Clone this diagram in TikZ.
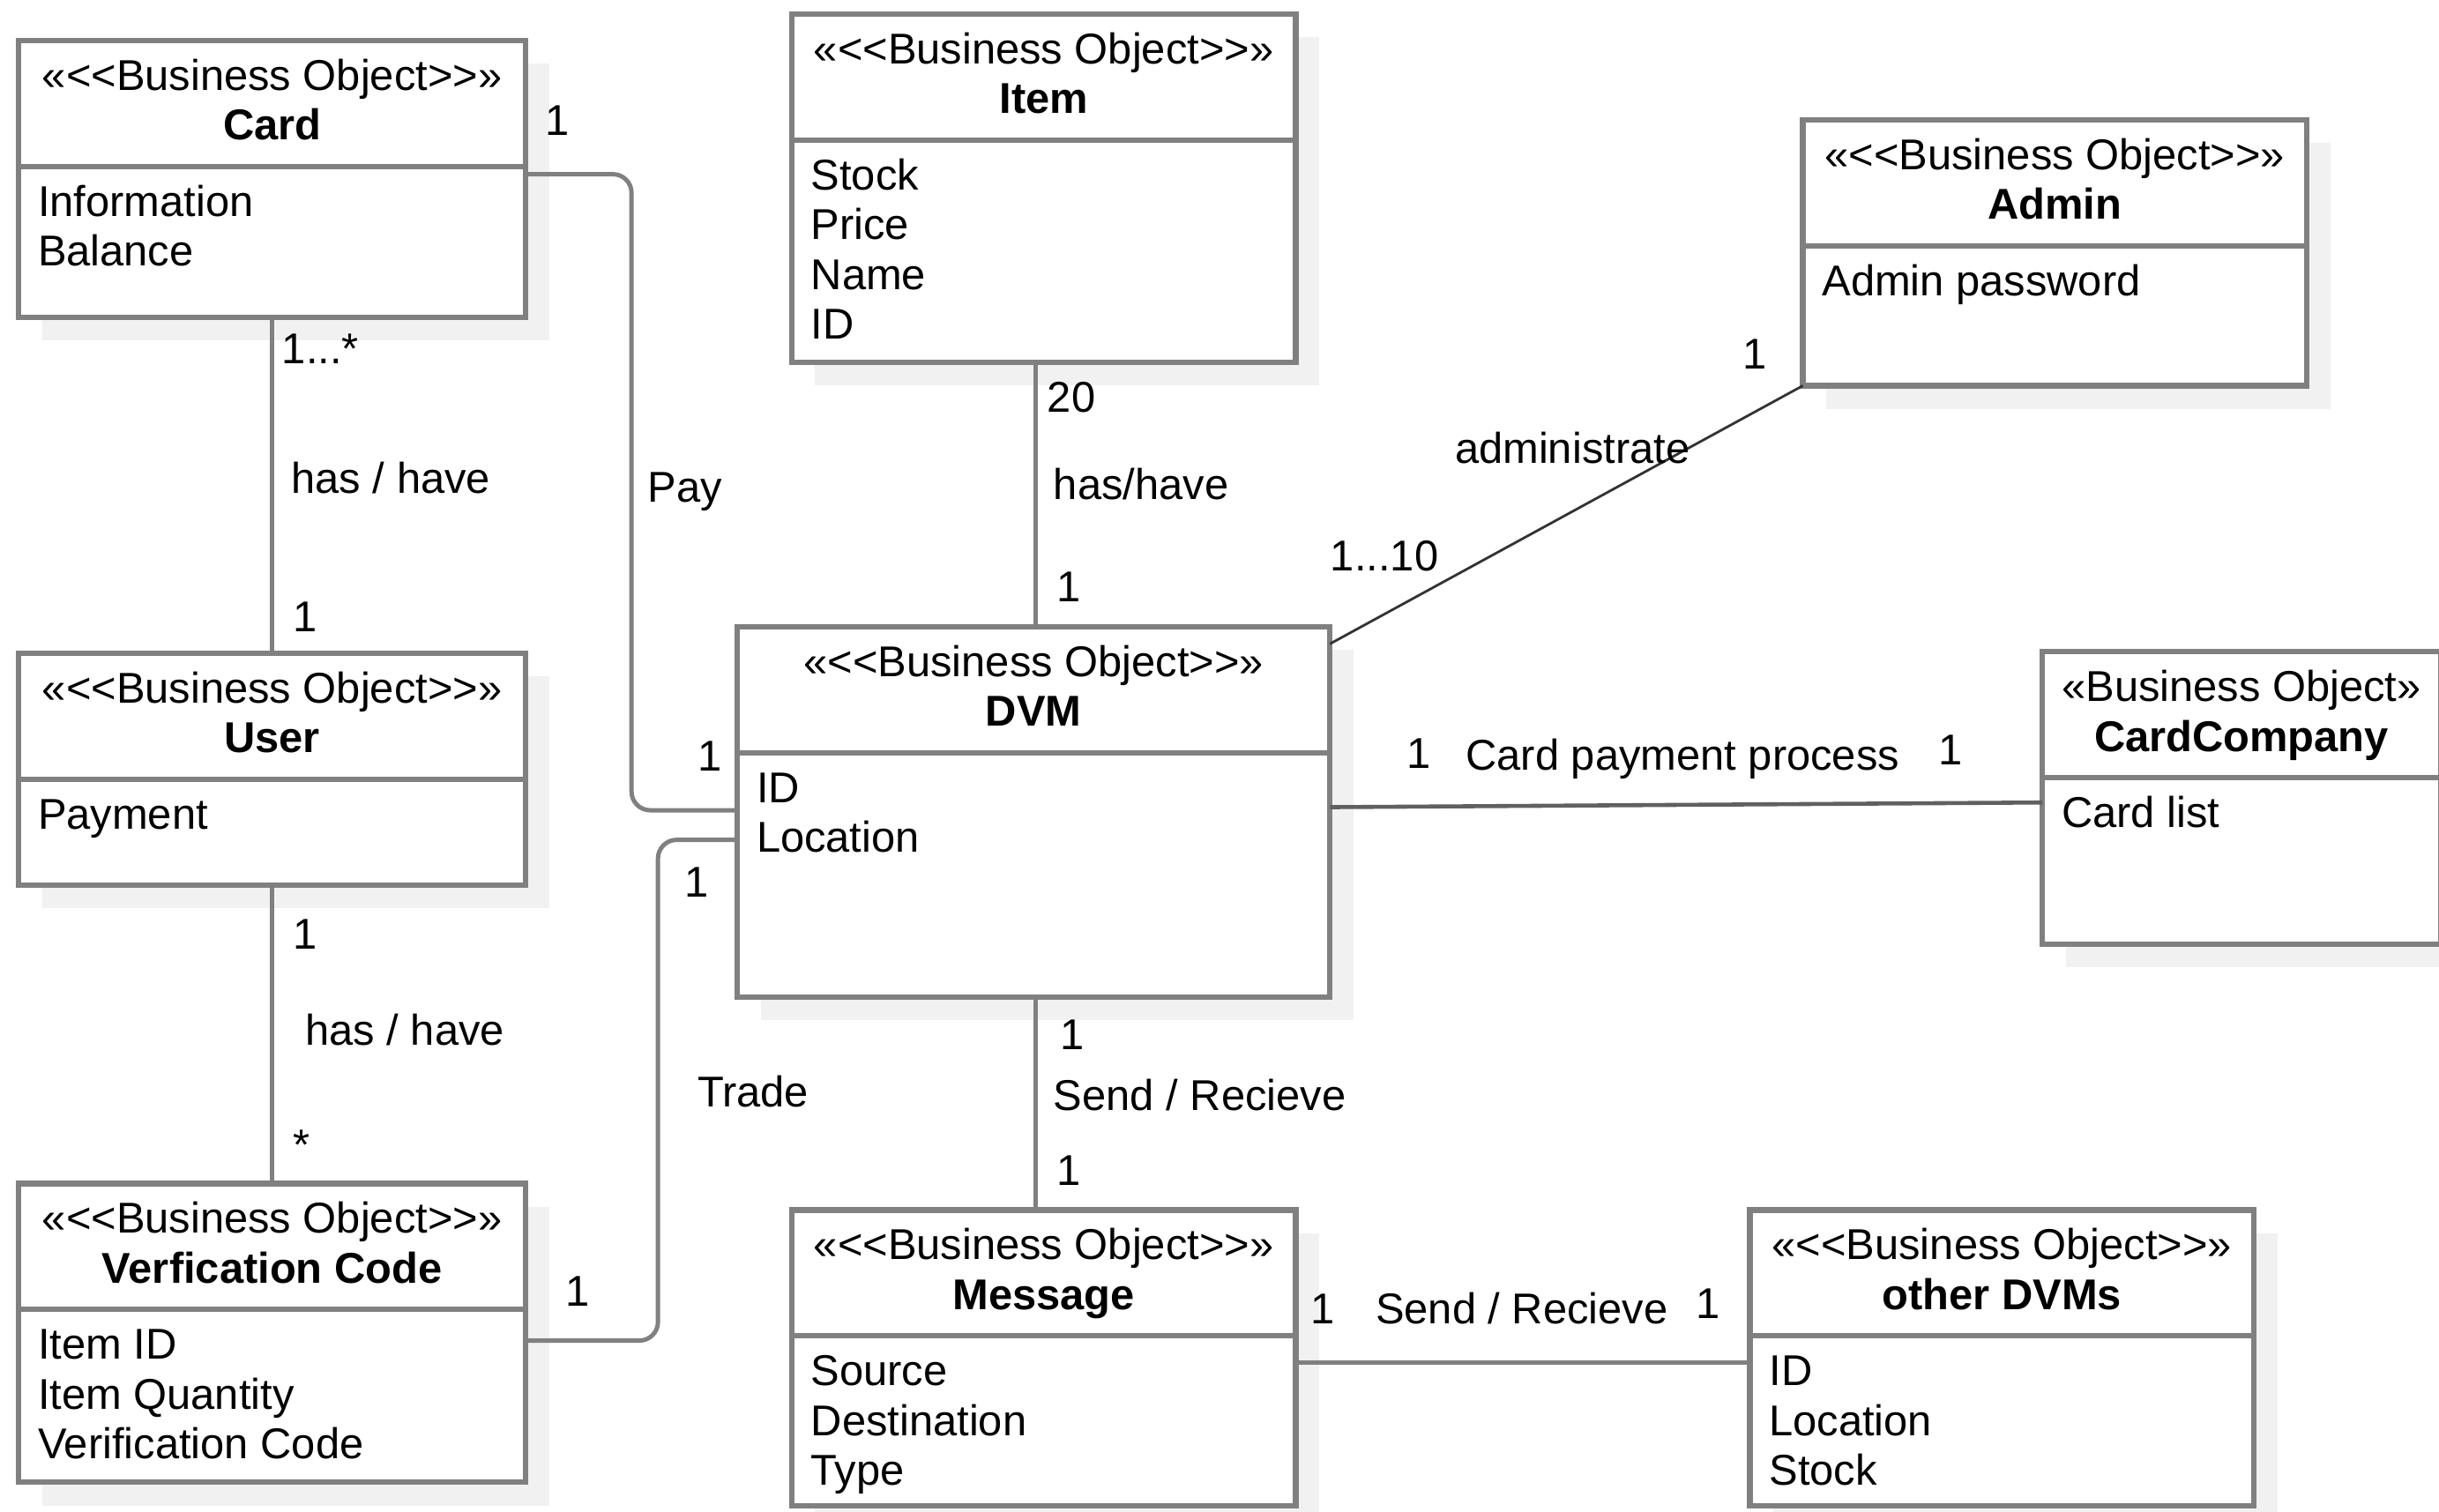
\documentclass[tikz,border=0pt]{standalone}
\usepackage{fontspec}
\setmainfont{Liberation Sans}
\usetikzlibrary{backgrounds}
\definecolor{bordc}{HTML}{808080}
\definecolor{shadc}{HTML}{F1F1F1}
\definecolor{diagc}{HTML}{333333}
\definecolor{linec}{HTML}{606060}
\newcommand{\basefnt}{\fontsize{13.85pt}{16pt}\selectfont}
\newcommand{\stlt}{<{}<}
\newcommand{\stgt}{>{}>}
\tikzset{
  umlbox/.style={draw=bordc, line width=1.75pt, fill=white, inner sep=0pt, outer sep=0pt},
  divline/.style={draw=bordc, line width=1.75pt},
  conn/.style={draw=bordc, line width=1.4pt},
  lbl/.style={anchor=base west, inner sep=0pt, font=\basefnt},
  txt/.style={inner sep=0pt, font=\basefnt},
  ttl/.style={inner sep=0pt, font=\basefnt\bfseries},
}
\newcommand{\umlclass}[8]{%
  \begin{pgfonlayer}{background}
    \fill[shadc] ({#2+15},{#3+15}) rectangle ({#4+15},{#5+15});
  \end{pgfonlayer}
  \node[umlbox, anchor=north west, minimum width={(#4-#2)*0.5pt}, minimum height={(#5-#3)*0.5pt}] (#1) at (#2,#3) {};
  \draw[divline] (#1.west |- {0},{#3+81}) -- (#1.east |- {0},{#3+81});
  \node[txt, anchor=base] (#1-st) at ({(#2+#4)/2},{#3+32}) {#6};
  \node[ttl, anchor=base] (#1-nm) at ({(#2+#4)/2},{#3+64}) {#7};
  \foreach \a [count=\i] in {#8} \node[txt, anchor=base west] (#1-a\i) at ({#2+12},{#3+81+32*\i}) {\a};
}
\begin{document}
\begin{tikzpicture}[x=0.5pt, y=-0.5pt]
\begin{pgfonlayer}{background}
  \fill[white] (0,0) rectangle (1568,972);
\end{pgfonlayer}
\useasboundingbox (0,0) rectangle (1568,972);
\clip (0,0) rectangle (1568,972);

\umlclass{card}{12}{26}{338}{204}{«\stlt Business Object\stgt»}{Card}{Information,Balance}
\umlclass{item}{509}{9}{833}{233}{«\stlt Business Object\stgt»}{Item}{Stock,Price,Name,ID}
\umlclass{admin}{1159}{77}{1483}{248}{«\stlt Business Object\stgt»}{Admin}{Admin password}
\umlclass{user}{12}{420}{338}{569}{«\stlt Business Object\stgt»}{User}{Payment}
\umlclass{dvm}{474}{403}{855}{641}{«\stlt Business Object\stgt»}{DVM}{ID,Location}
\umlclass{cc}{1313}{419}{1569}{607}{«Business Object»}{CardCompany}{Card list}
\umlclass{vc}{12}{761}{338}{953}{«\stlt Business Object\stgt»}{Verfication Code}{Item ID,Item Quantity,Verification Code}
\umlclass{msg}{509}{778}{833}{968}{«\stlt Business Object\stgt»}{Message}{Source,Destination,Type}
\umlclass{other}{1125}{778}{1449}{968}{«\stlt Business Object\stgt»}{other DVMs}{ID,Location,Stock}

% connectors
\draw[conn] (card.south) -- (user.north);
\draw[conn] (user.south) -- (vc.north);
\draw[conn, rounded corners=6pt] (card.east |- 0,112) -- (406,112) -- (406,521) -- (dvm.west |- 0,521);
\draw[conn, rounded corners=6pt] (vc.east |- 0,862) -- (423,862) -- (423,540) -- (dvm.west |- 0,540);
\draw[conn] (dvm.north -| 666,0) -- (item.south -| 666,0);
\draw[conn] (dvm.south -| 666,0) -- (msg.north -| 666,0);
\draw[draw=diagc, line width=0.8pt] (dvm.east |- 0,414) -- (admin.south west);
\draw[draw=linec, line width=1.3pt] (dvm.east |- 0,519) -- (cc.west |- 0,516);
\draw[conn] (msg.east |- 0,876) -- (other.west |- 0,876);

% labels
\node[lbl] (l1) at (350,87) {1};
\node[lbl] (l2) at (181,234) {1...*};
\node[lbl] (l3) at (187,317) {has / have};
\node[lbl] (l4) at (188,406) {1};
\node[lbl] (l5) at (416,323) {Pay};
\node[lbl] (l6) at (448,496) {1};
\node[lbl] (l7) at (188,610) {1};
\node[lbl] (l8) at (196,672) {has / have};
\node[lbl] (l9) at (188,746) {*};
\node[lbl] (l10) at (448,712) {Trade};
\node[lbl] (l11) at (440,577) {1};
\node[lbl] (l12) at (363,840) {1};
\node[lbl] (l13) at (673,265) {20};
\node[lbl] (l14) at (677,321) {has/have};
\node[lbl] (l15) at (679,387) {1};
\node[lbl] (l16) at (935,298) {administrate};
\node[lbl] (l17) at (1120,237) {1};
\node[lbl] (l18) at (855,367) {1...10};
\node[lbl] (l19) at (904,494) {1};
\node[lbl] (l20) at (942,495) {Card payment process};
\node[lbl] (l21) at (1246,492) {1};
\node[lbl] (l22) at (681,675) {1};
\node[lbl] (l23) at (677,714) {Send / Recieve};
\node[lbl] (l24) at (679,762) {1};
\node[lbl] (l25) at (842,851) {1};
\node[lbl] (l26) at (884,851) {Send / Recieve};
\node[lbl] (l27) at (1090,848) {1};
\end{tikzpicture}
\end{document}
